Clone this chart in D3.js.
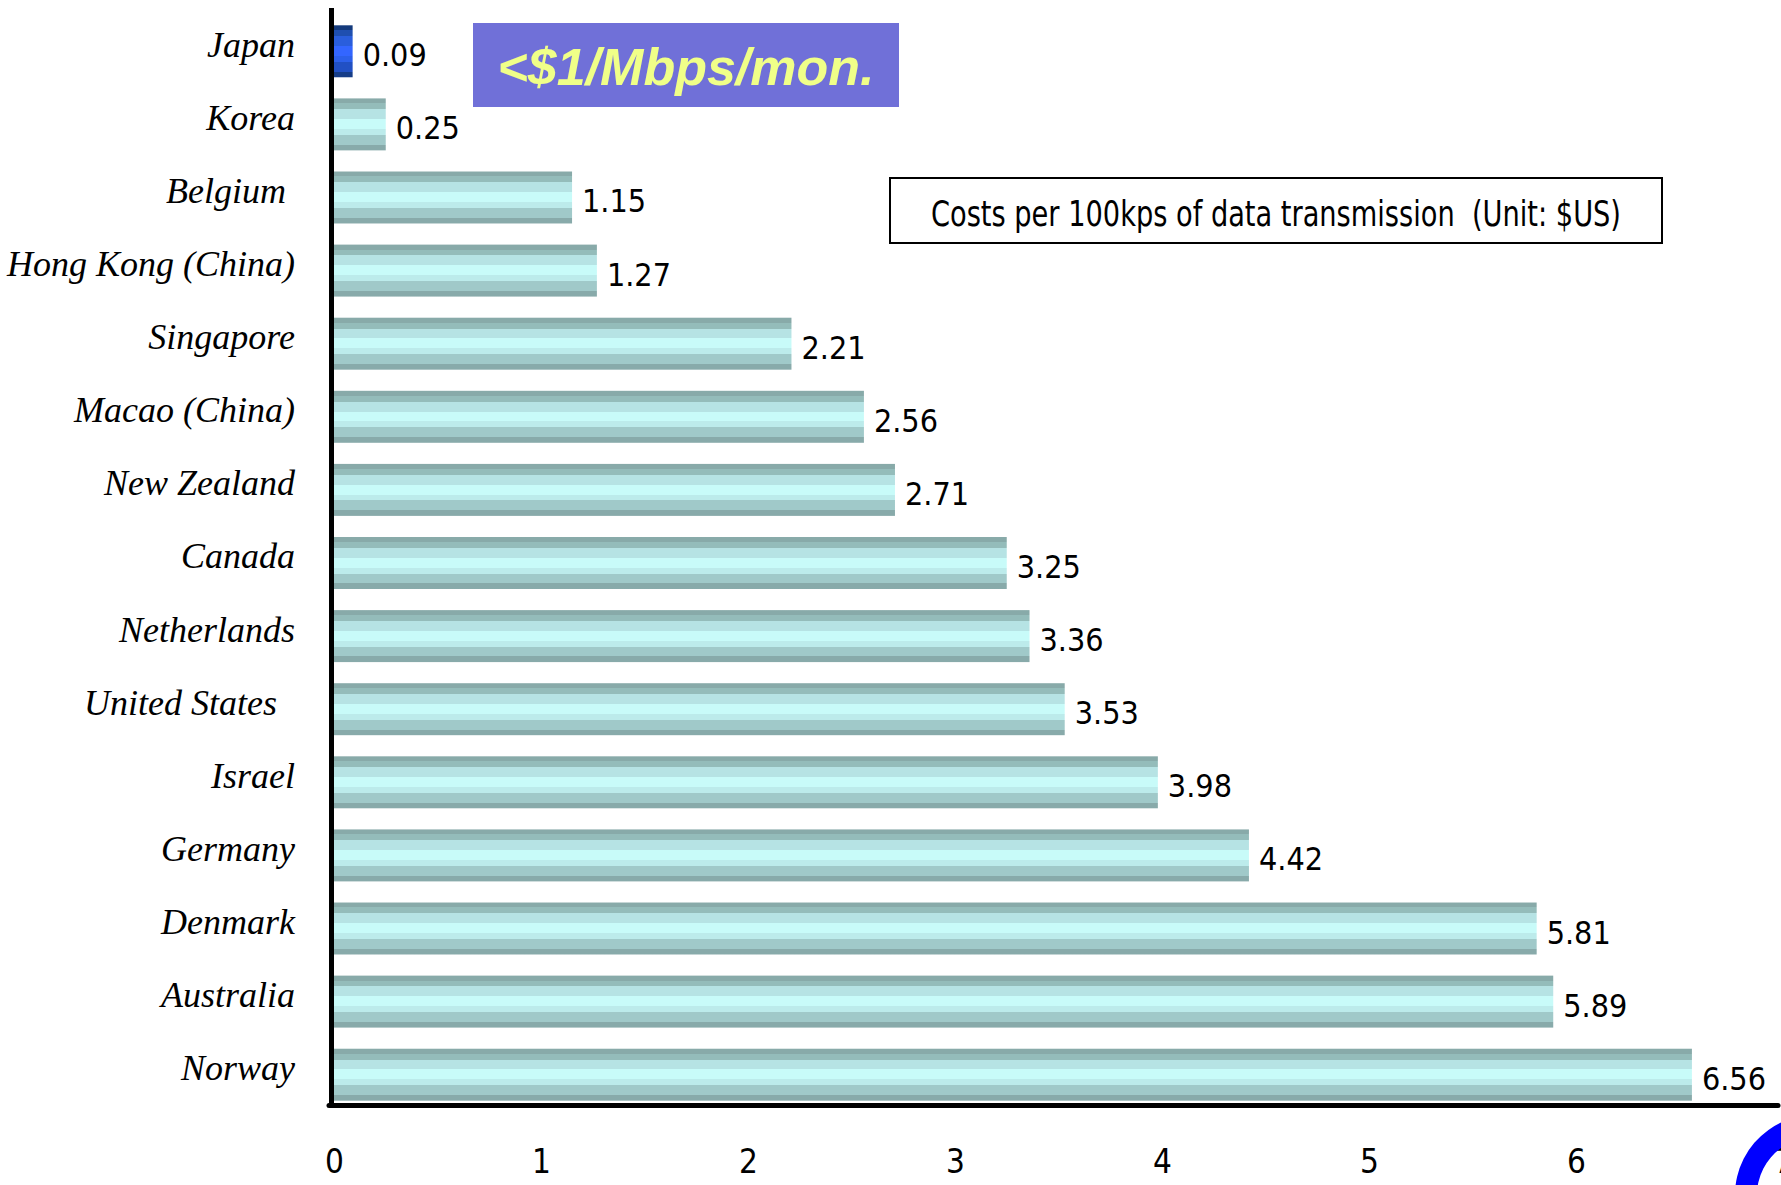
<!DOCTYPE html>
<html>
<head>
<meta charset="utf-8">
<script src="https://cdn.jsdelivr.net/npm/d3@7"></script>
<style>
  body { margin: 0; background: #fff; }
  svg { display: block; }
  .cat text { font-family: 'Liberation Serif', 'Times New Roman', serif; font-style: italic; font-size: 36px; fill: #000; white-space: pre; }
  .tick-x text { font-family: 'Liberation Sans Narrow', 'Arial Narrow', 'DejaVu Sans Condensed', sans-serif; font-size: 33px; fill: #000; }
  .val { font-family: 'Liberation Sans Narrow', 'Arial Narrow', 'DejaVu Sans Condensed', sans-serif; font-size: 32px; fill: #000; }
</style>
</head>
<body>
<div id="chart"></div>
<script>
// data
const countries = ['Japan', 'Korea', 'Belgium ', 'Hong Kong (China)', 'Singapore', 'Macao (China)',
                   'New Zealand', 'Canada', 'Netherlands', 'United States  ', 'Israel', 'Germany',
                   'Denmark', 'Australia', 'Norway'];
const costs = [0.09, 0.25, 1.15, 1.27, 2.21, 2.56, 2.71, 3.25, 3.36, 3.53, 3.98, 4.42, 5.81, 5.89, 6.56];
const xTicks = [0, 1, 2, 3, 4, 5, 6, 7];
const highlighted = 'Japan';
const calloutText = '<$1/Mbps/mon.';
const legendText = 'Costs per 100kps of data transmission  (Unit: $US)';

const w = 1781, h = 1185;
const narrow = "'Liberation Sans Narrow', 'Arial Narrow', 'DejaVu Sans Condensed', sans-serif";

const data = countries.map(function(c, i) { return {name: c, value: costs[i]}; });

const svg = d3.select('#chart')
              .append('svg')
              .attr('width', w)
              .attr('height', h);

const x = d3.scaleLinear()
            .domain([0, 7])
            .range([334, 1783]);

const y = d3.scaleBand()
            .domain(countries)
            .range([20, 1106])
            .paddingInner(0.289)
            .paddingOuter(0.0725);

// striped fills, hard stops
const defs = svg.append('defs');
function stripes(id, colors) {
    let stops = [0, 0.095, 0.209, 0.399, 0.589, 0.703, 0.892, 1];
    let g = defs.append('linearGradient')
                .attr('id', id)
                .attr('x1', 0).attr('y1', 0).attr('x2', 0).attr('y2', 1);
    for (let i = 0; i < colors.length; i++) {
        g.append('stop').attr('offset', stops[i]).attr('stop-color', colors[i]);
        g.append('stop').attr('offset', stops[i + 1]).attr('stop-color', colors[i]);
    }
}
stripes('teal', ['#88aaa9', '#94bcba', '#b6e3e4', '#c8fbf9', '#bcebeb', '#a0c9c9', '#88aaaa']);
stripes('blue', ['#143a7c', '#1f4fb0', '#2a5edc', '#3366ff', '#2c60ea', '#2150c4', '#163d88']);

svg.selectAll('rect.bar')
   .data(data)
   .enter()
   .append('rect')
   .attr('class', 'bar')
   .attr('x', x(0))
   .attr('y', function(d) { return y(d.name); })
   .attr('width', function(d) { return x(d.value) - x(0); })
   .attr('height', y.bandwidth())
   .attr('fill', function(d) { return d.name === highlighted ? 'url(#blue)' : 'url(#teal)'; });

svg.selectAll('text.val')
   .data(data)
   .enter()
   .append('text')
   .attr('class', 'val')
   .attr('x', function(d) { return x(d.value) + 10; })
   .attr('y', function(d) { return y(d.name) + y.bandwidth() / 2 + 15; })
   .text(function(d) { return d.value.toFixed(2); });

// category axis
const yAxis = svg.append('g')
                 .attr('class', 'cat')
                 .attr('transform', 'translate(' + (x(0) - 3) + ',0)')
                 .call(d3.axisLeft(y).tickSize(0).tickPadding(36));
yAxis.select('.domain').remove();
yAxis.selectAll('text').attr('dy', '0.15em');

// value axis
const xAxis = svg.append('g')
                 .attr('class', 'tick-x')
                 .attr('transform', 'translate(0,1105)')
                 .call(d3.axisBottom(x).tickValues(xTicks).tickSize(0).tickPadding(45).tickFormat(d3.format('d')));
xAxis.select('.domain').remove();

// thick axis lines
svg.append('line')
   .attr('x1', x(0) - 2.5).attr('x2', x(0) - 2.5)
   .attr('y1', 8).attr('y2', 1108)
   .attr('stroke', '#000').attr('stroke-width', 5);
svg.append('line')
   .attr('x1', x(0) - 5).attr('x2', 1778)
   .attr('y1', 1105.5).attr('y2', 1105.5)
   .attr('stroke', '#000').attr('stroke-width', 5)
   .attr('stroke-linecap', 'round');

// callout
svg.append('rect')
   .attr('x', 473).attr('y', 23).attr('width', 426).attr('height', 84)
   .attr('fill', '#7070d8');
svg.append('text')
   .attr('x', 686).attr('y', 85)
   .attr('text-anchor', 'middle')
   .attr('font-family', "'Liberation Sans', Arial, sans-serif")
   .attr('font-size', 52)
   .attr('font-weight', 'bold')
   .attr('font-style', 'italic')
   .attr('fill', '#f0ff88')
   .text(calloutText);

// legend box
svg.append('rect')
   .attr('x', 890).attr('y', 178).attr('width', 772).attr('height', 65)
   .attr('fill', '#fff').attr('stroke', '#000').attr('stroke-width', 2);
svg.append('text')
   .attr('x', 931).attr('y', 226)
   .attr('font-family', narrow)
   .attr('font-size', 36)
   .attr('textLength', 690)
   .attr('lengthAdjust', 'spacingAndGlyphs')
   .style('white-space', 'pre')
   .text(legendText);

// corner logo fragment
svg.append('path')
   .attr('transform', 'translate(1815,1195)')
   .attr('d', d3.arc().innerRadius(58).outerRadius(80).startAngle(-Math.PI * 0.58).endAngle(0.1)())
   .attr('fill', '#0000ff');
</script>
</body>
</html>
